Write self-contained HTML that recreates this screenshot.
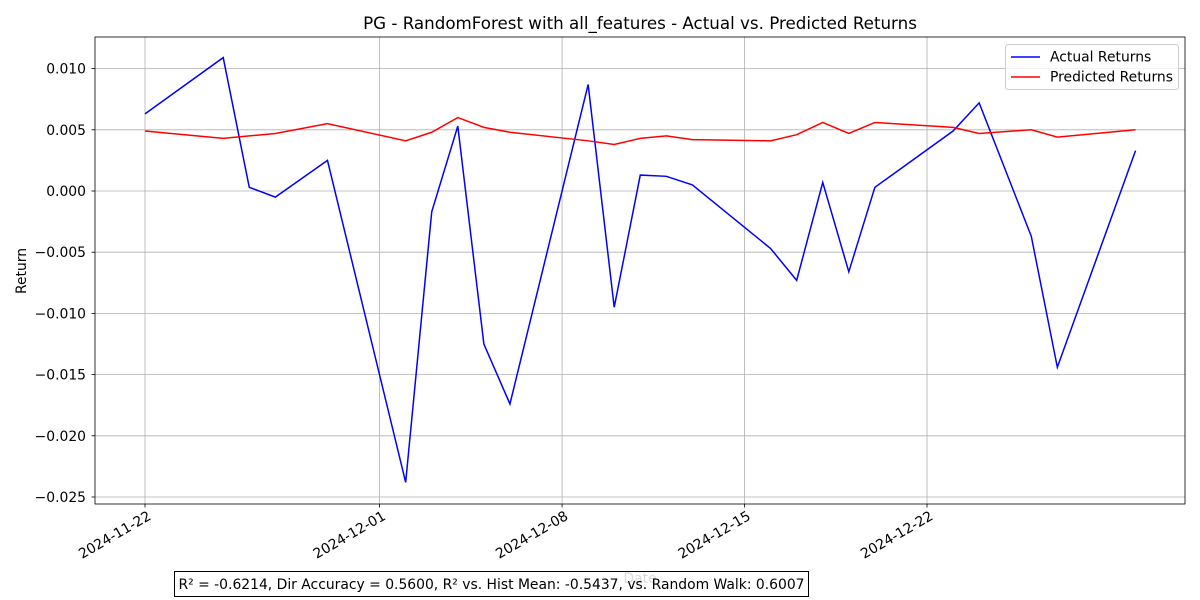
<!DOCTYPE html>
<html><head><meta charset="utf-8"><style>
body{margin:0;background:#fff;}
svg{display:block;font-family:"DejaVu Sans","Liberation Sans",sans-serif;}
</style></head><body>
<svg id="chart" width="1200" height="600" viewBox="0 0 1200 600"></svg>
<script>
const dates=["2024-11-22","2024-11-25","2024-11-26","2024-11-27","2024-11-29","2024-12-02","2024-12-03","2024-12-04","2024-12-05","2024-12-06","2024-12-09","2024-12-10","2024-12-11","2024-12-12","2024-12-13","2024-12-16","2024-12-17","2024-12-18","2024-12-19","2024-12-20","2024-12-23","2024-12-24","2024-12-26","2024-12-27","2024-12-30"];
const actual=[0.0063,0.0109,0.0003,-0.0005,0.0025,-0.0238,-0.0017,0.0053,-0.0125,-0.0174,0.0087,-0.0095,0.0013,0.0012,0.0005,-0.0047,-0.0073,0.0007,-0.0066,0.0003,0.0049,0.0072,-0.0037,-0.0144,0.0033];
const predicted=[0.0049,0.0043,0.0045,0.0047,0.0055,0.0041,0.0048,0.0060,0.0052,0.0048,0.0041,0.0038,0.0043,0.0045,0.0042,0.0041,0.0046,0.0056,0.0047,0.0056,0.0052,0.0047,0.0050,0.0044,0.0050];
const yTicks=[0.010,0.005,0.000,-0.005,-0.010,-0.015,-0.020,-0.025];
const xTicks=["2024-11-22","2024-12-01","2024-12-08","2024-12-15","2024-12-22"];

const NS="http://www.w3.org/2000/svg";
const svg=document.getElementById('chart');
const L=95,R=1185,T=37,B=504;
const d0=Date.parse("2024-11-22");
const X=d=>145+(Date.parse(d)-d0)/86400000*26.067;
const Y=v=>191-v/0.005*61.2;
function mk(tag,at,parent){const e=document.createElementNS(NS,tag);for(const k in at)e.setAttribute(k,at[k]);(parent||svg).appendChild(e);return e;}

const grid=mk('g',{});


yTicks.forEach(v=>{
  mk('line',{x1:L,x2:R,y1:Y(v),y2:Y(v),stroke:'#b0b0b0','stroke-width':0.8},grid);
  mk('line',{x1:L-3.5,x2:L,y1:Y(v),y2:Y(v),stroke:'#000','stroke-width':0.8});
  const t=mk('text',{x:L-9,y:Y(v)+5,'text-anchor':'end','font-size':13.9});
  
  
  t.textContent=(v<0?'\u2212':'')+Math.abs(v).toFixed(3);
});
xTicks.forEach(d=>{
  const x=X(d);
  mk('line',{x1:x,x2:x,y1:T,y2:B,stroke:'#b0b0b0','stroke-width':0.8},grid);
  mk('line',{x1:x,x2:x,y1:B,y2:B+3.5,stroke:'#000','stroke-width':0.8});
  const t=mk('text',{x:0,y:10,'text-anchor':'end','font-size':13.9,transform:`translate(${x+2} ${B+6}) rotate(-30)`});
  
  
  t.textContent=d;
});
function series(vals,color,name){
  const p=mk('polyline',{points:vals.map((v,i)=>X(dates[i])+','+Y(v)).join(' '),fill:'none',stroke:color,'stroke-width':1.5});
  
  
}
series(actual,'#0000ff','actual-returns-line');
series(predicted,'#ff0000','predicted-returns-line');
const frame=mk('rect',{x:L,y:T,width:R-L,height:B-T,fill:'none',stroke:'#000','stroke-width':0.8});


</script>
<svg style="position:absolute;left:0;top:0" width="1200" height="600">
<text x="640" y="29" text-anchor="middle" font-size="16.7">PG - RandomForest with all_features - Actual vs. Predicted Returns</text>
<text transform="translate(26 271) rotate(-90)" text-anchor="middle" font-size="13.9">Return</text>
<text x="640" y="583" text-anchor="middle" font-size="13.9" fill="#000">Date</text>
<g>
<rect x="1005.5" y="44.5" width="173" height="45" rx="3" fill="#fff" fill-opacity="0.8" stroke="#ccc"/>
<line x1="1011" x2="1040" y1="57" y2="57" stroke="#0000ff" stroke-width="1.5"/>
<text x="1050" y="61.5" font-size="13.9">Actual Returns</text>
<line x1="1011" x2="1040" y1="77" y2="77" stroke="#ff0000" stroke-width="1.5"/>
<text x="1050" y="81.5" font-size="13.9">Predicted Returns</text>
</g>
<g>
<rect x="174.5" y="571.5" width="634" height="25" fill="#fff" fill-opacity="0.85" stroke="#000" stroke-width="1"/>
<text x="491.5" y="589" text-anchor="middle" font-size="13.9">R² = -0.6214, Dir Accuracy = 0.5600, R² vs. Hist Mean: -0.5437, vs. Random Walk: 0.6007</text>
</g>
</svg>
</body></html>
